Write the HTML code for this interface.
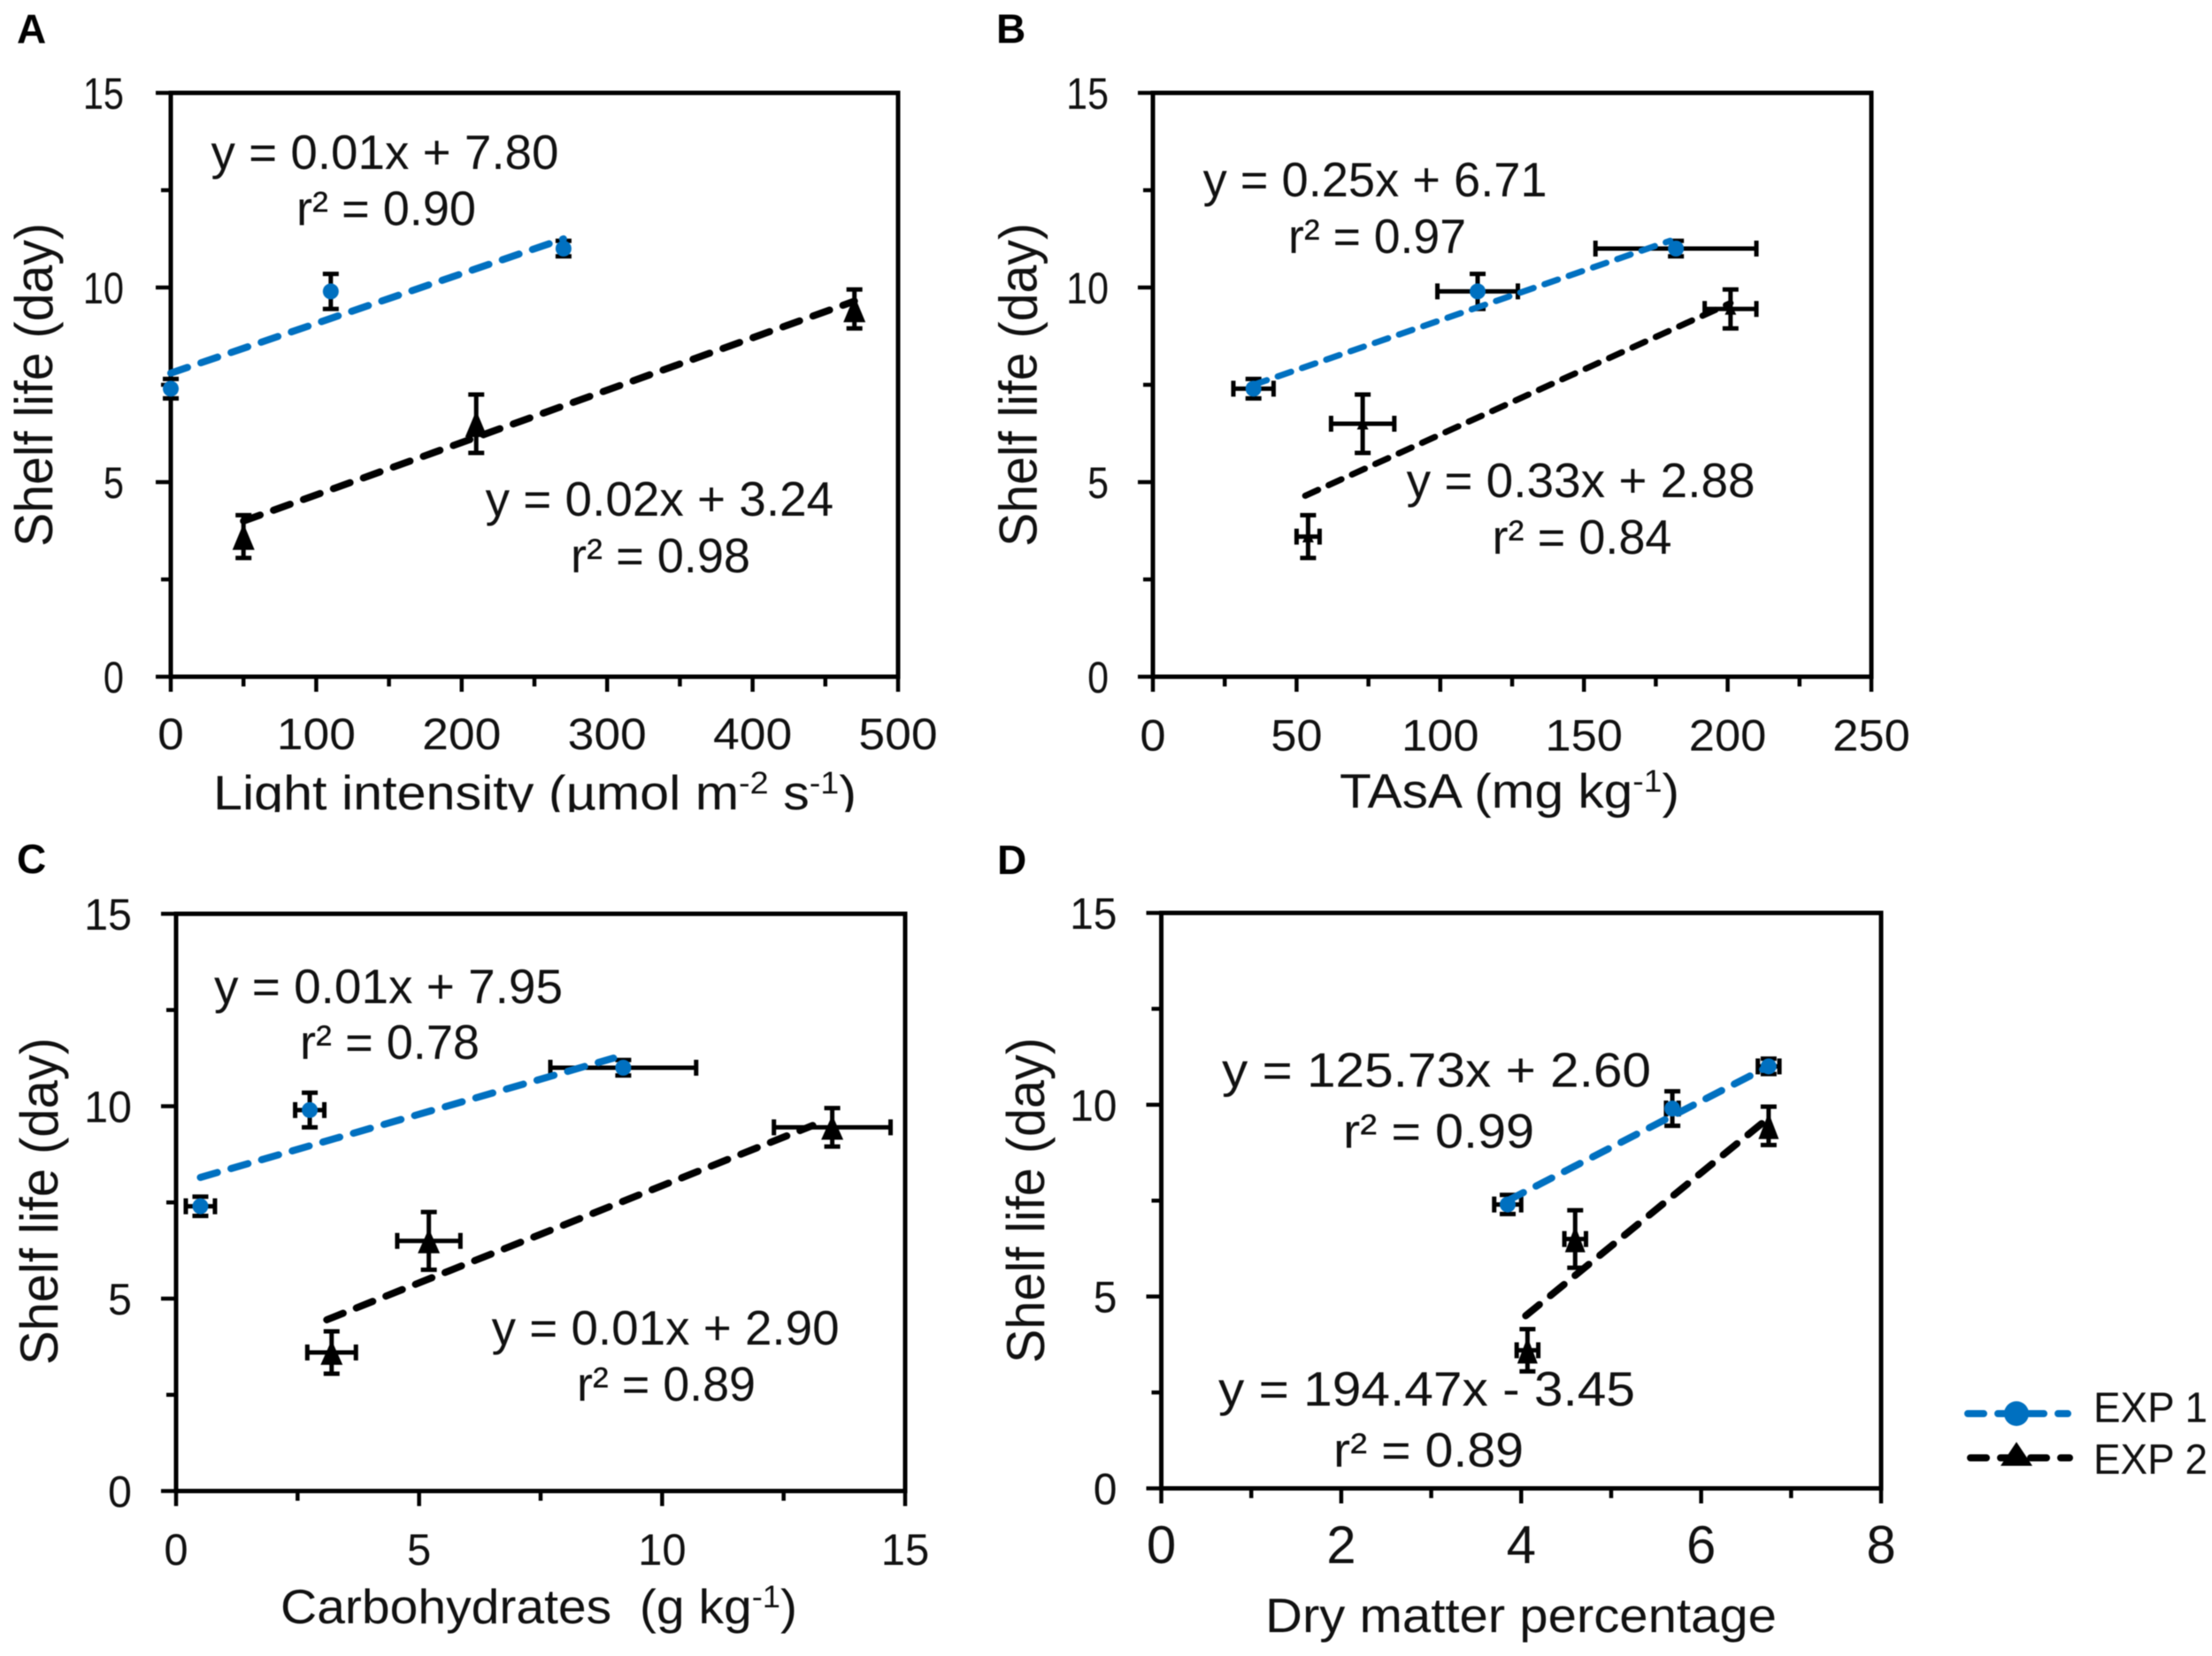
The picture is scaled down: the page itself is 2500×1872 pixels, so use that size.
<!DOCTYPE html>
<html lang="en">
<head>
<meta charset="utf-8">
<title>Shelf life correlations</title>
<style>
html,body{margin:0;padding:0;background:#fff;}
svg{display:block;filter:blur(0.6px);}
text{font-family:"Liberation Sans",Arial,sans-serif;fill:#111;}
.eq{font-size:55px;}
.tick{font-size:50px;}
.ylab{font-size:60px;}
.xlab{font-size:55px;}
.letter{font-size:46px;font-weight:bold;fill:#000;}
.leg{font-size:48px;}
</style>
</head>
<body>
<svg id="figure" xmlns="http://www.w3.org/2000/svg" width="2500" height="1872" viewBox="0 0 2500 1872">
  <defs>
    <clipPath id="clip-a-xlabel"><rect x="0" y="860" width="1100" height="58"/></clipPath>
  </defs>
  <rect x="0" y="0" width="2500" height="1872" fill="#fff"/>

  <g id="marks-a"></g>
  <g id="marks-b"></g>
  <g id="marks-c"></g>
  <g id="marks-d"></g>

  <g>
    <text class="letter" x="19" y="48.5">A</text>
    <text class="ylab" transform="translate(59,618) rotate(-90)" textLength="366" lengthAdjust="spacingAndGlyphs">Shelf life (day)</text>
    <g clip-path="url(#clip-a-xlabel)">
      <text class="xlab" x="241" y="915" textLength="727" lengthAdjust="spacingAndGlyphs">Light intensity (µmol m<tspan dy="-18" font-size="35">-2</tspan><tspan dy="18"> s</tspan><tspan dy="-18" font-size="35">-1</tspan><tspan dy="18">)</tspan></text>
    </g>
    <text class="eq" x="238.5" y="191" textLength="393" lengthAdjust="spacingAndGlyphs">y = 0.01x + 7.80</text>
    <text class="eq" x="335" y="254.5" textLength="203" lengthAdjust="spacingAndGlyphs">r² = 0.90</text>
    <text class="eq" x="548.6" y="583" textLength="393.5" lengthAdjust="spacingAndGlyphs">y = 0.02x + 3.24</text>
    <text class="eq" x="645" y="647" textLength="203" lengthAdjust="spacingAndGlyphs">r² = 0.98</text>
  </g>

  <g>
    <text class="letter" x="1126" y="48.5">B</text>
    <text class="ylab" transform="translate(1171.5,618) rotate(-90)" textLength="366" lengthAdjust="spacingAndGlyphs">Shelf life (day)</text>
    <text class="xlab" x="1514" y="913" textLength="384" lengthAdjust="spacingAndGlyphs">TAsA (mg kg<tspan dy="-18" font-size="35">-1</tspan><tspan dy="18">)</tspan></text>
    <text class="eq" x="1359.6" y="222" textLength="389" lengthAdjust="spacingAndGlyphs">y = 0.25x + 6.71</text>
    <text class="eq" x="1456" y="286" textLength="201" lengthAdjust="spacingAndGlyphs">r² = 0.97</text>
    <text class="eq" x="1589.6" y="562" textLength="394" lengthAdjust="spacingAndGlyphs">y = 0.33x + 2.88</text>
    <text class="eq" x="1686.5" y="626" textLength="203" lengthAdjust="spacingAndGlyphs">r² = 0.84</text>
  </g>

  <g>
    <text class="letter" x="19" y="987">C</text>
    <text class="ylab" transform="translate(65,1543) rotate(-90)" textLength="370" lengthAdjust="spacingAndGlyphs">Shelf life (day)</text>
    <text class="xlab" x="317" y="1835" textLength="584" lengthAdjust="spacingAndGlyphs" xml:space="preserve">Carbohydrates  (g kg<tspan dy="-18" font-size="35">-1</tspan><tspan dy="18">)</tspan></text>
    <text class="eq" x="242" y="1134" textLength="394" lengthAdjust="spacingAndGlyphs">y = 0.01x + 7.95</text>
    <text class="eq" x="339" y="1197" textLength="203" lengthAdjust="spacingAndGlyphs">r² = 0.78</text>
    <text class="eq" x="555.6" y="1520" textLength="393" lengthAdjust="spacingAndGlyphs">y = 0.01x + 2.90</text>
    <text class="eq" x="652" y="1583.5" textLength="202" lengthAdjust="spacingAndGlyphs">r² = 0.89</text>
  </g>

  <g>
    <text class="letter" x="1127" y="988">D</text>
    <text class="ylab" transform="translate(1180,1541) rotate(-90)" textLength="368" lengthAdjust="spacingAndGlyphs">Shelf life (day)</text>
    <text class="xlab" x="1430" y="1845" textLength="578" lengthAdjust="spacingAndGlyphs">Dry matter percentage</text>
    <text class="eq" x="1381" y="1228.5" textLength="485" lengthAdjust="spacingAndGlyphs">y = 125.73x + 2.60</text>
    <text class="eq" x="1518" y="1297.6" textLength="216" lengthAdjust="spacingAndGlyphs">r² = 0.99</text>
    <text class="eq" x="1377" y="1589" textLength="471" lengthAdjust="spacingAndGlyphs">y = 194.47x - 3.45</text>
    <text class="eq" x="1507" y="1658" textLength="215" lengthAdjust="spacingAndGlyphs">r² = 0.89</text>
  </g>

  <g>
    <g>
      <line x1="2224" y1="1598" x2="2337" y2="1598" stroke="#0070c0" stroke-width="8" stroke-linecap="round" stroke-dasharray="18 16"/>
      <circle cx="2279" cy="1598" r="14" fill="#0070c0"/>
      <text class="leg" x="2366" y="1607.5" textLength="129" lengthAdjust="spacingAndGlyphs">EXP 1</text>
    </g>
    <g>
      <line x1="2227" y1="1648" x2="2339" y2="1648" stroke="#000" stroke-width="8" stroke-linecap="round" stroke-dasharray="18 16"/>
      <polygon points="2279,1630 2297,1657 2261,1657" fill="#000"/>
      <text class="leg" x="2366" y="1666" textLength="129" lengthAdjust="spacingAndGlyphs">EXP 2</text>
    </g>
  </g>
</svg>

<script>
// Shared shelf-life values (days)
const shelfExp1 = [7.4, 9.9, 11];
const shelfExp2 = [3.6, 6.5, 9.45];
const shelfExp1Err = [0.25, 0.45, 0.2];
const shelfExp2Err = [0.55, 0.75, 0.5];
const yTickLabels = [0, 5, 10, 15];

// Panel A: light intensity
const lightTicks = [0, 100, 200, 300, 400, 500];
const lightExp1 = [0, 110, 270];
const lightExp2 = [50, 210, 470];
const lightExp1Err = [0, 0, 0];
const lightExp2Err = [0, 0, 0];
const lightTrend1X = [0, 270];
const lightTrend1Y = [7.8, 11.25];
const lightTrend2X = [50, 470];
const lightTrend2Y = [4.0, 9.65];

// Panel B: TAsA
const tasaTicks = [0, 50, 100, 150, 200, 250];
const tasaExp1 = [35, 113, 182];
const tasaExp2 = [54, 73, 201];
const tasaExp1Err = [7, 14, 28];
const tasaExp2Err = [4, 11, 9];
const tasaTrend1X = [35, 180];
const tasaTrend1Y = [7.5, 11.2];
const tasaTrend2X = [53, 201];
const tasaTrend2Y = [4.65, 9.6];

// Panel C: carbohydrates
const carbTicks = [0, 5, 10, 15];
const carbExp1 = [0.5, 2.75, 9.2];
const carbExp2 = [3.2, 5.2, 13.5];
const carbExp1Err = [0.3, 0.3, 1.5];
const carbExp2Err = [0.5, 0.65, 1.2];
const carbTrend1X = [0.5, 9];
const carbTrend1Y = [8.15, 11.25];
const carbTrend2X = [3.1, 13.1];
const carbTrend2Y = [4.45, 9.5];

// Panel D: dry matter
const dryTicks = [0, 2, 4, 6, 8];
const dryExp1 = [3.85, 5.68, 6.75];
const dryExp2 = [4.07, 4.6, 6.75];
const dryExp1Err = [0.15, 0.07, 0.12];
const dryExp2Err = [0.12, 0.12, 0];
const dryTrend1X = [3.85, 6.75];
const dryTrend1Y = [7.5, 11];
const dryTrend2X = [4.05, 6.72];
const dryTrend2Y = [4.5, 9.6];

const SVG_NS = 'http://www.w3.org/2000/svg';
const BLUE = '#0070c0';
const BLACK = '#000';

function make(parent, tag, attrs) {
  const node = document.createElementNS(SVG_NS, tag);
  for (const key in attrs) node.setAttribute(key, attrs[key]);
  parent.appendChild(node);
  return node;
}

function drawPanel(cfg) {
  const g = document.getElementById(cfg.id);
  const xMax = cfg.xTicks[cfg.xTicks.length - 1];
  const yMax = yTickLabels[yTickLabels.length - 1];
  const sx = v => cfg.left + (v / xMax) * (cfg.right - cfg.left);
  const sy = v => cfg.bottom - (v / yMax) * (cfg.bottom - cfg.top);

  const frame = make(g, 'rect', {x: cfg.left, y: cfg.top, width: cfg.right - cfg.left, height: cfg.bottom - cfg.top, fill: 'none', stroke: BLACK, 'stroke-width': 5});
  
  

  // y ticks: long at labelled values, short halfway between
  for (let i = 0; i < yTickLabels.length * 2 - 1; i++) {
    const v = i * (yTickLabels[1] - yTickLabels[0]) / 2;
    const len = i % 2 === 0 ? 17 : 11;
    const t = make(g, 'line', {x1: cfg.left - len, x2: cfg.left, y1: sy(v), y2: sy(v), stroke: BLACK, 'stroke-width': 4.5});
    
    
  }
  yTickLabels.forEach(v => {
    const t = make(g, 'text', {x: cfg.left - cfg.yLabelGap, y: sy(v) + 18, 'text-anchor': 'end', class: 'tick', textLength: String(v).length * 27.8 * cfg.yLabelStretch, lengthAdjust: 'spacingAndGlyphs'});
    
    
    t.textContent = v;
  });

  // x ticks: long at labelled values, short halfway between
  const xStep = cfg.xTicks[1] - cfg.xTicks[0];
  for (let i = 0; i < cfg.xTicks.length * 2 - 1; i++) {
    const v = i * xStep / 2;
    const len = i % 2 === 0 ? 17 : 11;
    const t = make(g, 'line', {x1: sx(v), x2: sx(v), y1: cfg.bottom, y2: cfg.bottom + len, stroke: BLACK, 'stroke-width': 4.5});
    
    
  }
  cfg.xTicks.forEach(v => {
    const t = make(g, 'text', {x: sx(v), y: cfg.xLabelY, 'text-anchor': 'middle', class: 'tick', textLength: String(v).length * 0.556 * cfg.xTickSize * cfg.xLabelStretch, lengthAdjust: 'spacingAndGlyphs'});
    t.style.fontSize = cfg.xTickSize + 'px';
    
    
    t.textContent = v;
  });

  cfg.series.forEach(s => {
    s.x.forEach((xv, i) => {
      const px = sx(xv), py = sy(s.y[i]);
      const top = sy(s.y[i] + s.yErr[i]), bot = sy(s.y[i] - s.yErr[i]);
      const vbar = make(g, 'path', {d: `M${px-9} ${top}H${px+9}M${px} ${top}V${bot}M${px-9} ${bot}H${px+9}`, fill: 'none', stroke: BLACK, 'stroke-width': 5});
      
      
      if (s.xErr[i] > 0) {
        const l = sx(xv - s.xErr[i]), r = sx(xv + s.xErr[i]);
        const hbar = make(g, 'path', {d: `M${l} ${py-9}V${py+9}M${l} ${py}H${r}M${r} ${py-9}V${py+9}`, fill: 'none', stroke: BLACK, 'stroke-width': 5});
        
        
      }
      if (s.kind === 'circle') {
        const c = make(g, 'circle', {cx: px, cy: py, r: 9, fill: s.color});
        
        
      } else {
        const w = cfg.triW / 2, h = cfg.triH / 2;
        const c = make(g, 'polygon', {points: `${px},${py-h} ${px+w},${py+h} ${px-w},${py+h}`, fill: s.color});
        
        
      }
    });
    const line = make(g, 'line', {x1: sx(s.tx[0]), y1: sy(s.ty[0]), x2: sx(s.tx[1]), y2: sy(s.ty[1]), stroke: s.color, 'stroke-width': cfg.trendWidth, 'stroke-linecap': 'round', 'stroke-dasharray': cfg.trendDash});
    
    
  });
}

drawPanel({id: 'marks-a', left: 193, right: 1015, top: 105, bottom: 765, yLabelGap: 53, yLabelStretch: 0.83, xTicks: lightTicks, xLabelY: 847, xTickSize: 50, xLabelStretch: 1.07, triW: 25, triH: 30, trendWidth: 8, trendDash: '20 16',
  series: [
    {x: lightExp1, y: shelfExp1, xErr: lightExp1Err, yErr: shelfExp1Err, color: BLUE, kind: 'circle', tx: lightTrend1X, ty: lightTrend1Y},
    {x: lightExp2, y: shelfExp2, xErr: lightExp2Err, yErr: shelfExp2Err, color: BLACK, kind: 'triangle', tx: lightTrend2X, ty: lightTrend2Y}
  ]});
drawPanel({id: 'marks-b', left: 1303, right: 2115, top: 105, bottom: 765, yLabelGap: 50, yLabelStretch: 0.86, xTicks: tasaTicks, xLabelY: 848.5, xTickSize: 50, xLabelStretch: 1.05, triW: 13, triH: 13, trendWidth: 7, trendDash: '16 13',
  series: [
    {x: tasaExp1, y: shelfExp1, xErr: tasaExp1Err, yErr: shelfExp1Err, color: BLUE, kind: 'circle', tx: tasaTrend1X, ty: tasaTrend1Y},
    {x: tasaExp2, y: shelfExp2, xErr: tasaExp2Err, yErr: shelfExp2Err, color: BLACK, kind: 'triangle', tx: tasaTrend2X, ty: tasaTrend2Y}
  ]});
drawPanel({id: 'marks-c', left: 199, right: 1023, top: 1033, bottom: 1685.5, yLabelGap: 50, yLabelStretch: 0.97, xTicks: carbTicks, xLabelY: 1769, xTickSize: 50, xLabelStretch: 0.98, triW: 25, triH: 28, trendWidth: 8, trendDash: '20 16',
  series: [
    {x: carbExp1, y: shelfExp1, xErr: carbExp1Err, yErr: shelfExp1Err, color: BLUE, kind: 'circle', tx: carbTrend1X, ty: carbTrend1Y},
    {x: carbExp2, y: shelfExp2, xErr: carbExp2Err, yErr: shelfExp2Err, color: BLACK, kind: 'triangle', tx: carbTrend2X, ty: carbTrend2Y}
  ]});
drawPanel({id: 'marks-d', left: 1312.5, right: 2126, top: 1032, bottom: 1682.5, yLabelGap: 50, yLabelStretch: 0.96, xTicks: dryTicks, xLabelY: 1767, xTickSize: 60, xLabelStretch: 1.0, triW: 23, triH: 30, trendWidth: 8, trendDash: '20 16',
  series: [
    {x: dryExp1, y: shelfExp1, xErr: dryExp1Err, yErr: shelfExp1Err, color: BLUE, kind: 'circle', tx: dryTrend1X, ty: dryTrend1Y},
    {x: dryExp2, y: shelfExp2, xErr: dryExp2Err, yErr: shelfExp2Err, color: BLACK, kind: 'triangle', tx: dryTrend2X, ty: dryTrend2Y}
  ]});
</script>
</body>
</html>
